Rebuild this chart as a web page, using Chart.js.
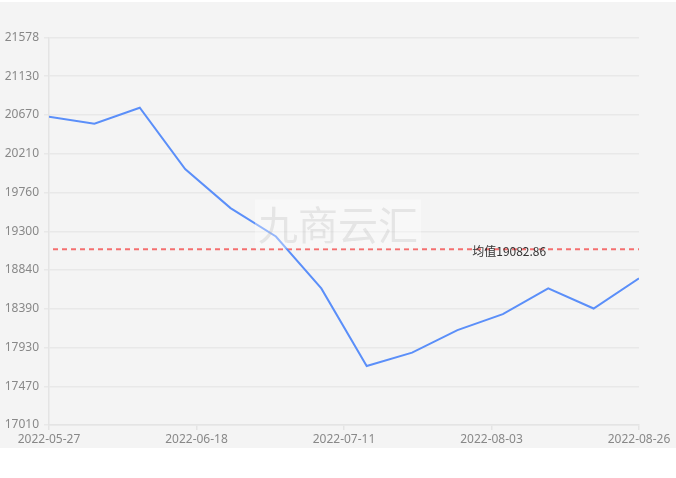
<!DOCTYPE html>
<html>
<head>
<meta charset="utf-8">
<script src="https://cdn.jsdelivr.net/npm/chart.js@4"></script>
<style>
  html, body { margin: 0; padding: 0; background: #ffffff; }
  #wrap { position: absolute; left: 0; top: 0; width: 676px; height: 448px; }
</style>
</head>
<body>
<div id="wrap"><canvas id="c" width="676" height="448"></canvas></div>
<script>
// ---- data ----
const dates = ["2022-05-27","2022-06-03","2022-06-10","2022-06-17","2022-06-24","2022-07-01","2022-07-08",
               "2022-07-15","2022-07-22","2022-07-29","2022-08-05","2022-08-12","2022-08-19","2022-08-26"];
const prices = [20644, 20561, 20750, 20028, 19567, 19232, 18620, 17705, 17863, 18128, 18317, 18620, 18383, 18738];
const meanValue = 19082.86;
const meanLabel = "均值19082.86";
const xTickLabels = ["2022-05-27", "2022-06-18", "2022-07-11", "2022-08-03", "2022-08-26"];
const yTickLabels = ["17010","17470","17930","18390","18840","19300","19760","20210","20670","21130","21578"];
const yMin = 17010, yMax = 21578;
const watermark = "九商云汇";

const DAY = 86400000;
const t0 = Date.parse(dates[0]);
const dayOf = s => (Date.parse(s) - t0) / DAY;
const xMin = dayOf(dates[0]), xMax = dayOf(dates[dates.length - 1]);

const seriesPoints = dates.map((d, i) => ({ x: dayOf(d), y: prices[i] }));
const meanPoints = [{ x: xMin, y: meanValue }, { x: xMax, y: meanValue }];

const FONT = "'Noto Sans', 'Noto Sans CJK SC', sans-serif";

const bgPlugin = {
  id: 'bg',
  beforeDraw(chart) {
    const ctx = chart.ctx;
    ctx.save();
    ctx.fillStyle = '#f4f4f4';
    ctx.fillRect(0, 2, chart.width, chart.height - 2);
    ctx.restore();
  }
};

const overlayPlugin = {
  id: 'overlay',
  afterDatasetsDraw(chart) {
    const ctx = chart.ctx;
    const ya = chart.scales.y;
    const ca = chart.chartArea;
    const yPix = ya.getPixelForValue(meanValue);
    ctx.save();
    ctx.font = "12px 'Noto Sans CJK SC', 'Noto Sans', sans-serif";
    ctx.fillStyle = '#333333';
    ctx.textAlign = 'center';
    ctx.textBaseline = 'middle';
    ctx.fillText(meanLabel, ca.left + (ca.right - ca.left) * 0.78, yPix + 2);
    ctx.restore();
  },
  afterDraw(chart) {
    const ctx = chart.ctx;
    const cx = chart.width / 2, cy = chart.height / 2;
    ctx.save();
    ctx.font = "40px 'Noto Sans CJK SC', sans-serif";
    const w = ctx.measureText(watermark).width + 6;
    const h = 49;
    ctx.fillStyle = 'rgba(255,255,255,0.35)';
    ctx.fillRect(cx - w / 2, cy - h / 2, w, h);
    ctx.fillStyle = 'rgba(170,170,170,0.25)';
    ctx.textAlign = 'center';
    ctx.textBaseline = 'middle';
    ctx.fillText(watermark, cx, cy + 1);
    ctx.restore();
  }
};

new Chart(document.getElementById('c'), {
  type: 'line',
  data: {
    datasets: [
      {
        data: seriesPoints,
        borderColor: '#5b8ff9',
        borderWidth: 2,
        pointRadius: 0,
        pointHoverRadius: 0,
        tension: 0,
        fill: false
      },
      {
        data: meanPoints,
        borderColor: 'rgba(244,96,96,0.9)',
        borderWidth: 2,
        borderDash: [5, 4],
        borderDashOffset: -4,
        pointRadius: 0,
        tension: 0,
        fill: false
      }
    ]
  },
  options: {
    responsive: false,
    animation: false,
    events: [],
    layout: { padding: { top: 37.5, right: 37, bottom: 1, left: 0 } },
    plugins: { legend: { display: false }, tooltip: { enabled: false } },
    scales: {
      x: {
        type: 'linear',
        min: xMin,
        max: xMax,
        afterBuildTicks(scale) {
          scale.ticks = xTickLabels.map((_, i) => ({ value: xMin + (xMax - xMin) * i / (xTickLabels.length - 1) }));
        },
        afterFit(scale) { scale.height = 22; },
        ticks: {
          autoSkip: false,
          maxRotation: 0,
          padding: 2,
          color: '#888888',
          font: { family: FONT, size: 12 },
          callback: (v, i) => xTickLabels[i]
        },
        grid: {
          drawOnChartArea: false,
          drawTicks: true,
          tickLength: 5,
          color: '#e4e4e4',
          lineWidth: 1.5
        },
        border: { display: true, color: '#e4e4e4', width: 1.5 }
      },
      y: {
        type: 'linear',
        min: yMin,
        max: yMax,
        afterBuildTicks(scale) {
          scale.ticks = yTickLabels.map((_, i) => ({ value: yMin + (yMax - yMin) * i / (yTickLabels.length - 1) }));
        },
        afterFit(scale) { scale.width = 49; },
        ticks: {
          autoSkip: false,
          padding: 5,
          color: '#888888',
          font: { family: FONT, size: 12 },
          callback: (v, i) => yTickLabels[i]
        },
        grid: {
          color: '#e8e8e8',
          lineWidth: 1.5,
          tickLength: 5
        },
        border: { display: true, color: '#e4e4e4', width: 1.5 }
      }
    }
  },
  plugins: [bgPlugin, overlayPlugin]
});
</script>
</body>
</html>
